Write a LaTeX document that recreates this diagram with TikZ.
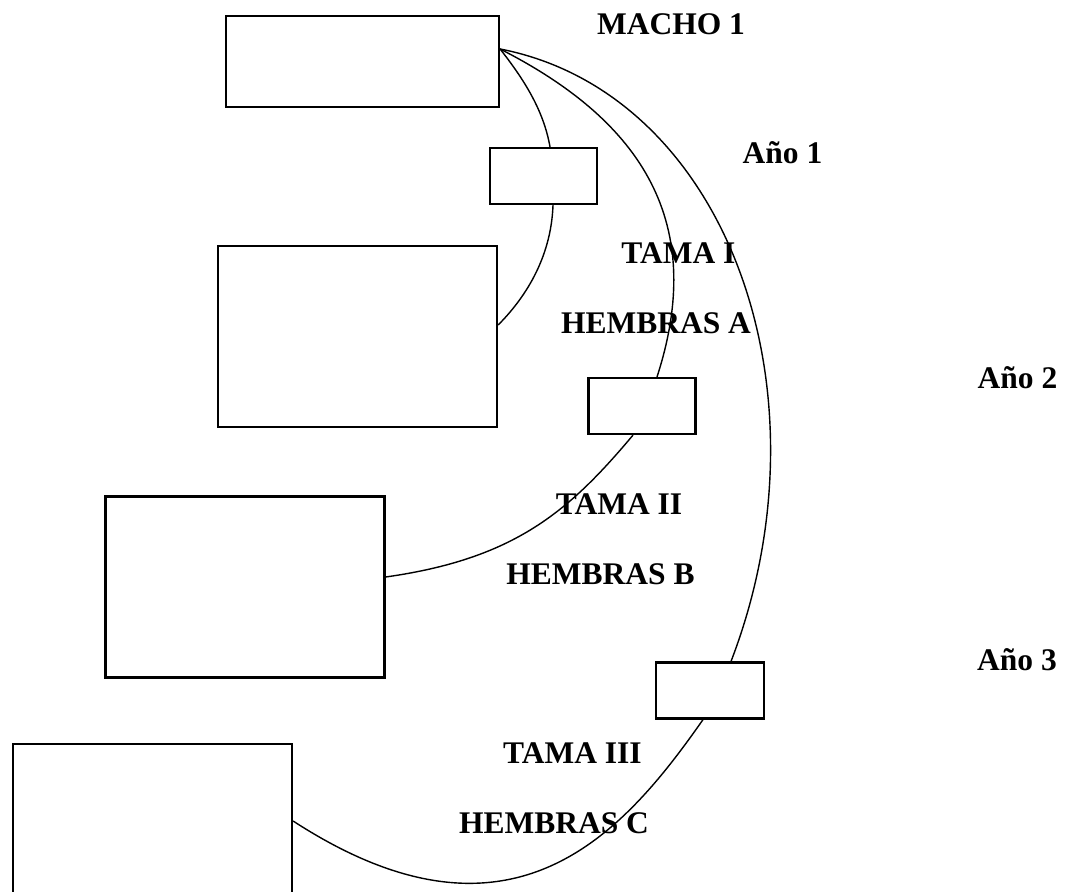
\documentclass[tikz,border=0pt]{standalone}
\usepackage{fontspec}
\setmainfont{Liberation Serif}
\begin{document}
\begin{tikzpicture}[x=0.5pt,y=0.5pt,
  box/.style={draw, line width=1.1pt, fill=white, rectangle, inner sep=0pt},
  bigbox/.style={box, minimum width=139.5pt, minimum height=90.5pt},
  smallbox/.style={box, minimum width=53.5pt, minimum height=28pt},
  lbl/.style={font=\fontsize{15.75pt}{18pt}\selectfont\bfseries, anchor=base, inner sep=0pt},
  link/.style={line width=0.7pt}]
\useasboundingbox (0,0) rectangle (1074,891);
\clip (0,0) rectangle (1074,891);

% boxes
\node[box, minimum width=136.5pt, minimum height=45.5pt] (macho) at (362.5,829.5) {};
\node[smallbox] (t1) at (543.5,715) {};
\node[bigbox] (ha) at (357.5,554.5) {};
\node[smallbox] (t2) at (642,485) {};
\node[bigbox] (hb) at (245,304) {};
\node[smallbox, minimum width=54pt] (t3) at (710,200.5) {};
\node[bigbox] (hc) at (152.5,56.5) {};

% labels
\node[lbl] (lmacho) at (671,856) {MACHO 1};
\node[lbl] (lano1) at (782.5,728) {Año 1};
\node[lbl] (ltama1) at (678.5,628) {TAMA I};
\node[lbl] (lha) at (656,558) {HEMBRAS A};
\node[lbl] (lano2) at (1017.5,503) {Año 2};
\node[lbl] (ltama2) at (619,377) {TAMA II};
\node[lbl] (lhb) at (600.5,307) {HEMBRAS B};
\node[lbl] (lano3) at (1017,221) {Año 3};
\node[lbl] (ltama3) at (572.5,128) {TAMA III};
\node[lbl] (lhc) at (554,58) {HEMBRAS C};

% connection points
\coordinate (src) at ([yshift=6.25pt]macho.east);
\coordinate (t1in) at ([xshift=3.25pt]t1.north);
\coordinate (t1out) at ([xshift=4.75pt]t1.south);
\coordinate (t2in) at ([xshift=7.5pt]t2.north);
\coordinate (t2out) at ([xshift=-4.5pt]t2.south);
\coordinate (t3in) at ([xshift=10.5pt]t3.north);
\coordinate (t3out) at ([xshift=-3.5pt]t3.south);
\coordinate (hain) at ([yshift=5.75pt]ha.east);
\coordinate (hbin) at ([yshift=5pt]hb.east);
\coordinate (hcin) at ([yshift=6.75pt]hc.east);

% lines of descent
\draw[link] (src) .. controls +(-52:38) and +(100:38) .. (t1in);
\draw[link] (t1out) .. controls +(-92:55) and +(45:35) .. (hain);
\draw[link] (src) .. controls +(-27:150) and +(72:170) .. (t2in);
\draw[link] (t2out) .. controls +(-130:100) and +(8:130) .. (hbin);
\draw[link] (src) .. controls +(-11:230) and +(69:290) .. (t3in);
\draw[link] (t3out) .. controls +(-125:140) and +(-33:260) .. (hcin);
\end{tikzpicture}
\end{document}
